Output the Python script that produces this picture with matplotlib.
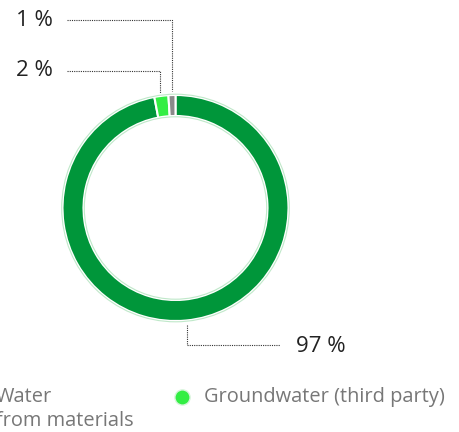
import matplotlib.pyplot as plt
from matplotlib.patches import Circle

# water withdrawal by source, percent
sources = ['Groundwater', 'Groundwater (third party)', 'Water from materials']
shares = [97, 2, 1]
colors = ['#00963a', '#33ee44', '#8a8a8a']
share_labels = ['97 %', '2 %', '1 %']

W, H = 459, 432
fig = plt.figure(figsize=(W / 100, H / 100), dpi=100)
ax = fig.add_axes([0, 0, 1, 1])


def Y(y):
    # top-down pixel rows to data y
    return H - y


cx, cy, r = 175.5, Y(208), 113
ax.pie(shares, colors=colors, startangle=90, counterclock=False,
       center=(cx, cy), radius=r, frame=True,
       wedgeprops=dict(width=21, edgecolor='white', linewidth=1.5))
ax.add_patch(Circle((cx, cy), r + 0.8, fill=False, ec='#bfe8c9', lw=0.8))
ax.add_patch(Circle((cx, cy), r - 21.8, fill=False, ec='#bfe8c9', lw=0.8))
ax.set_xlim(0, W)
ax.set_ylim(0, H)
ax.set_aspect('equal')
ax.axis('off')

lk = dict(color='#333333', lw=0.8, ls=(0, (1, 1)))
tk = dict(fontsize=16, color='#222222', va='center', family='Open Sans')

# 1 % callout
ax.plot([67, 172, 172], [Y(20), Y(20), Y(91)], **lk)
ax.text(53, Y(20), share_labels[2], ha='right', **tk)
# 2 % callout
ax.plot([67, 160, 160], [Y(71), Y(71), Y(93)], **lk)
ax.text(53, Y(71), share_labels[1], ha='right', **tk)
# 97 % callout
ax.plot([187, 187, 280], [Y(325), Y(345), Y(345)], **lk)
ax.text(296, Y(347), share_labels[0], ha='left', **tk)

# legend row (runs past the left edge)
lg = dict(fontsize=14.4, color='#777777', va='center', family='Open Sans')
ax.scatter([-28], [Y(397)], s=120, color=colors[2], zorder=3, clip_on=False)
ax.text(-4, Y(397), 'Water', ha='left', **lg)
ax.text(-4, Y(421), 'from materials', ha='left', **lg)
ax.scatter([182], [Y(397)], s=120, color=colors[1], edgecolor='#d8f5dc',
           lw=1, zorder=3)
ax.text(204, Y(397), sources[1], ha='left', **lg)

fig.savefig('out.png', dpi=100, facecolor='white')
